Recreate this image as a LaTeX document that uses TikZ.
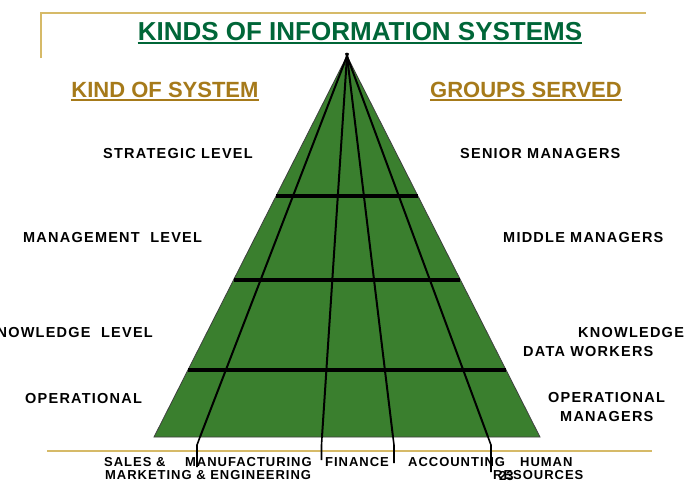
\documentclass[tikz,border=0pt]{standalone}
\usepackage{fontspec}
\setmainfont{Liberation Sans}
\newfontfamily\lblfont[LetterSpace=8.5]{Liberation Sans}
\newfontfamily\btmfont[LetterSpace=7.5]{Liberation Sans}
\usetikzlibrary{calc}
\definecolor{pyrgreen}{RGB}{58,127,46}
\definecolor{titlegreen}{RGB}{0,102,56}
\definecolor{goldtext}{RGB}{166,122,26}
\definecolor{goldline}{RGB}{214,186,104}
\begin{document}
\begin{tikzpicture}[x=1pt,y=-1pt,
  lvl/.style={font=\lblfont\bfseries\fontsize{14.5}{16}\selectfont, inner sep=0, anchor=base west, text=black},
  lvlr/.style={lvl, anchor=base east},
  btm/.style={font=\btmfont\bfseries\fontsize{13}{14}\selectfont, inner sep=0, anchor=base west, text=black},
  heading/.style={font=\bfseries\fontsize{22}{24}\selectfont, inner sep=0, anchor=base, text=goldtext},
  frameline/.style={draw=goldline, line width=1.5pt},
  divider/.style={draw=black, line width=2pt},
  levelline/.style={draw=black, line width=3.5pt},
  conn/.style={draw=black, line width=1.6pt}
]
\useasboundingbox[fill=white] (0,0) rectangle (685,483);

% golden frame lines
\coordinate (ftl) at (41,13);
\coordinate (ftr) at (646,13);
\coordinate (fbl) at (41,58);
\coordinate (bl1) at (47,451);
\coordinate (bl2) at (652,451);
\draw[frameline] (fbl) -- (ftl) -- (ftr);
\draw[frameline] (bl1) -- (bl2);

% title
\node[font=\bfseries\fontsize{26}{29}\selectfont, inner sep=0, anchor=base, text=titlegreen] (title) at (360,40) {KINDS OF INFORMATION SYSTEMS};
\draw[titlegreen, line width=1.6pt] ([yshift=-3pt]title.base west) -- ([yshift=-3pt]title.base east);

% headings
\node[heading] (kind) at (165,97) {KIND OF SYSTEM};
\draw[goldtext, line width=1.5pt] ([yshift=-3pt]kind.base west) -- ([yshift=-3pt]kind.base east);
\node[heading] (groups) at (526,97) {GROUPS SERVED};
\draw[goldtext, line width=1.5pt] ([yshift=-3pt]groups.base west) -- ([yshift=-3pt]groups.base east);

% pyramid
\coordinate (apex) at (347,56);
\coordinate (bL) at (154,437);
\coordinate (bR) at (540,437);
\fill[pyrgreen, draw=black!75, line width=0.8pt] (apex) -- (bL) -- (bR) -- cycle;

% level lines
\foreach \t/\n in {0.3675/1, 0.588/2, 0.824/3} {
  \coordinate (L\n) at ($(apex)!\t!(bL)$);
  \coordinate (R\n) at ($(apex)!\t!(bR)$);
}
\draw[levelline] (L1) -- (R1);
\draw[levelline] (L2) -- (R2);
\draw[levelline] (L3) -- (R3);

% dividers from apex to base and below
\coordinate (d1) at (200,437); \coordinate (e1) at (197,445); \coordinate (f1) at (197,467);
\coordinate (d2) at (322,437); \coordinate (e2) at (321.5,445); \coordinate (f2) at (321.5,460);
\coordinate (d3) at (393,437); \coordinate (e3) at (394,445); \coordinate (f3) at (394,463);
\coordinate (d4) at (488,437); \coordinate (e4) at (491,445); \coordinate (f4) at (491,472);
\foreach \i in {1,2,3,4} {
  \draw[divider, shorten <=-3pt] (apex) -- (d\i);
  \draw[conn, line join=round] (d\i) -- (e\i) -- (f\i);
}

% left labels
\node[lvl] (strat) at (103,158) {STRATEGIC LEVEL};
\node[lvl] (mgmt) at (23,242) {MANAGEMENT\ \ LEVEL};
\node[lvlr] (know) at (153,337) {KNOWLEDGE\ \ LEVEL};
\node[lvl] (oper) at (25,403) {OPERATIONAL};

% right labels
\node[lvl] (senior) at (460,158) {SENIOR MANAGERS};
\node[lvl] (middle) at (503,242) {MIDDLE MANAGERS};
\node[lvl] (knowr) at (578,337) {KNOWLEDGE};
\node[lvl] (data) at (523,356) {DATA WORKERS};
\node[lvl] (operr) at (548,402) {OPERATIONAL};
\node[lvl] (mgrs) at (560,421) {MANAGERS};

% bottom labels
\node[btm] (sales) at (104,466) {SALES \&};
\node[btm] (manuf) at (185,466) {MANUFACTURING};
\node[btm] (fin) at (325,466) {FINANCE};
\node[btm] (acc) at (408,466) {ACCOUNTING};
\node[btm] (hum) at (520,466) {HUMAN};
\node[btm] (mkt) at (105,479) {MARKETING \& ENGINEERING};
\node[btm] (res) at (493,479) {RESOURCES};
\node[font=\bfseries\fontsize{13}{14}\selectfont, inner sep=0, anchor=base west] (page) at (499,480) {23};
\end{tikzpicture}
\end{document}
